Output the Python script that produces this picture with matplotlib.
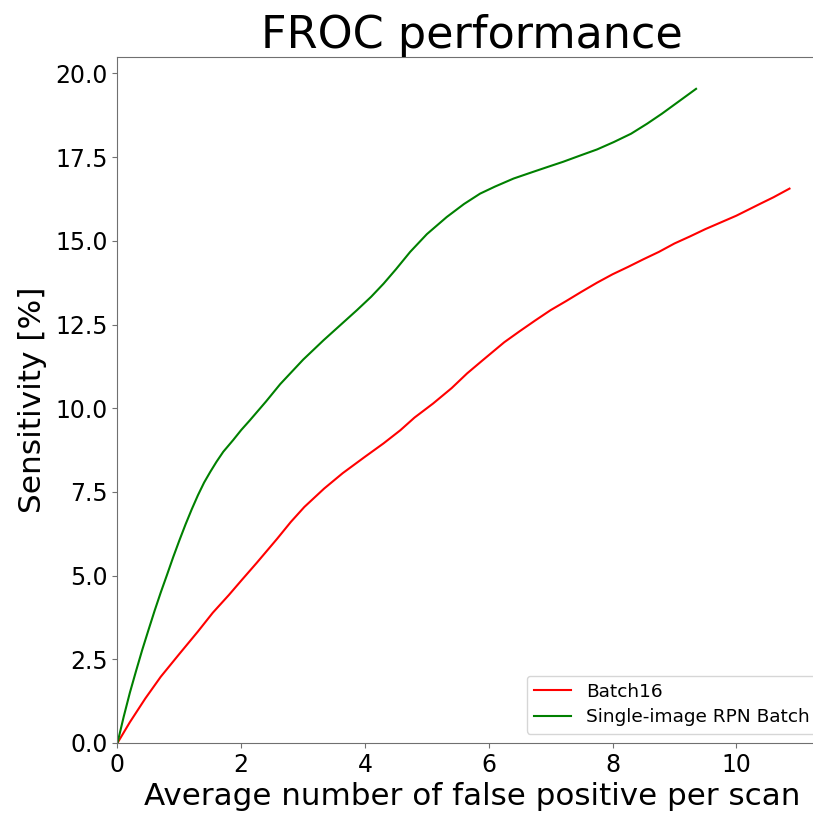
import matplotlib
matplotlib.use("Agg")
import matplotlib.pyplot as plt

# 讀圖估計的 FROC 曲線點
batch16_x = [0, 0.2, 0.45, 0.7, 1.0, 1.3, 1.54, 1.8, 2.0, 2.25, 2.58, 2.8, 3.02, 3.34,
             3.64, 4.0, 4.3, 4.57, 4.8, 5.1, 5.4, 5.65, 5.9, 6.25, 6.5, 6.75, 7.0,
             7.25, 7.5, 7.75, 8.0, 8.25, 8.5, 8.75, 9.0, 9.25, 9.5, 9.75, 10.0, 10.39,
             10.6, 10.86]
batch16_y = [0, 0.62, 1.33, 1.98, 2.66, 3.33, 3.89, 4.42, 4.85, 5.38, 6.1, 6.6, 7.05, 7.6,
             8.06, 8.55, 8.95, 9.34, 9.72, 10.14, 10.6, 11.04, 11.43, 11.97, 12.3, 12.62,
             12.93, 13.2, 13.48, 13.75, 14.0, 14.22, 14.45, 14.67, 14.92, 15.13, 15.35,
             15.55, 15.75, 16.11, 16.3, 16.56]

rpn_x = [0, 0.1, 0.2, 0.3, 0.4, 0.5, 0.6, 0.7, 0.8, 0.9, 1.0, 1.1, 1.2, 1.3, 1.4, 1.5,
         1.6, 1.71, 1.87, 2.0, 2.14, 2.4, 2.63, 3.0, 3.33, 3.6, 3.87, 4.1, 4.3, 4.5,
         4.73, 5.0, 5.32, 5.6, 5.86, 6.1, 6.4, 6.7, 6.94, 7.2, 7.48, 7.75, 8.02, 8.3,
         8.56, 8.8, 9.09, 9.35]
rpn_y = [0, 0.78, 1.5, 2.15, 2.78, 3.37, 3.95, 4.5, 5.02, 5.55, 6.05, 6.53, 6.98, 7.4,
         7.78, 8.1, 8.4, 8.7, 9.05, 9.35, 9.64, 10.2, 10.72, 11.45, 12.03, 12.48, 12.93,
         13.33, 13.72, 14.15, 14.67, 15.2, 15.71, 16.1, 16.41, 16.62, 16.86, 17.05,
         17.2, 17.36, 17.55, 17.73, 17.95, 18.2, 18.5, 18.8, 19.19, 19.54]

labels = ["Batch16", "Single-image RPN Batch"]

fig = plt.figure(figsize=(8.13, 8.16), dpi=100)
ax = fig.add_axes([0.1445, 0.0895, 0.8715, 0.841])

ax.plot(batch16_x, batch16_y, color="r", linewidth=1.5, label=labels[0])
ax.plot(rpn_x, rpn_y, color="g", linewidth=1.5, label=labels[1])

ax.set_xlim(0, 11.45)
ax.set_ylim(0, 20.5)
ax.set_title("FROC performance", fontsize=32)
ax.set_xlabel("Average number of false positive per scan", fontsize=22.3)
ax.set_ylabel("Sensitivity [%]", fontsize=22.5, labelpad=6)
ax.tick_params(labelsize=17, color="#707070")
for s in ax.spines.values():
    s.set_color("#707070")

ax.legend(loc="lower right", fontsize=13.3, labelspacing=0.4)

fig.savefig("out.png", dpi=100)
